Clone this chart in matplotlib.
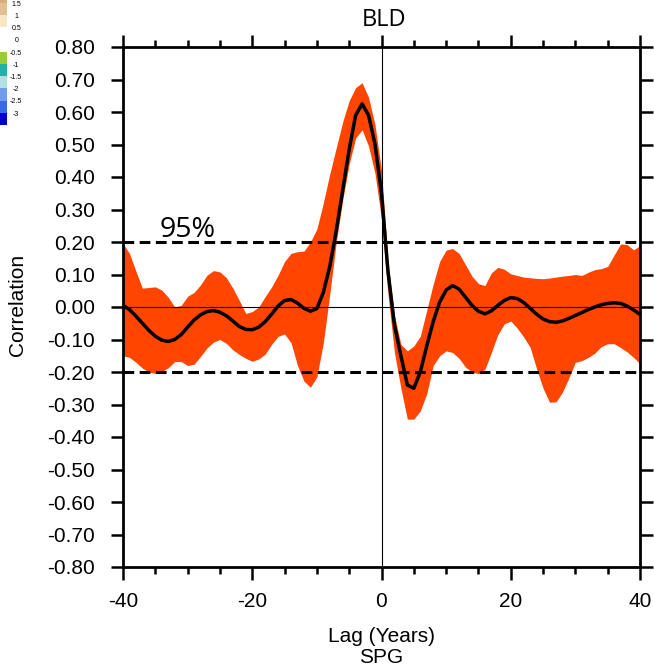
import matplotlib
matplotlib.use("Agg")
import matplotlib.pyplot as plt
import matplotlib.transforms as mtransforms
import numpy as np

plt.rcParams['font.family'] = 'Liberation Sans'
plt.rcParams['axes.unicode_minus'] = False

# lag-correlation data
lags = list(range(-40, 41))
corr = [0.005, -0.008, -0.028, -0.050, -0.072, -0.090, -0.102, -0.106, -0.100, -0.085,
        -0.062, -0.040, -0.024, -0.014, -0.011, -0.016, -0.027, -0.043, -0.060, -0.069,
        -0.070, -0.062, -0.045, -0.022, 0.003, 0.020, 0.023, 0.012, -0.004, -0.013,
        -0.005, 0.045, 0.125, 0.235, 0.360, 0.485, 0.590, 0.625, 0.590, 0.500,
        0.350, 0.110, -0.055, -0.150, -0.240, -0.250, -0.200, -0.120, -0.045, 0.015,
        0.052, 0.066, 0.055, 0.030, 0.005, -0.013, -0.021, -0.012, 0.005, 0.020,
        0.029, 0.026, 0.014, -0.004, -0.022, -0.037, -0.045, -0.047, -0.043, -0.035,
        -0.026, -0.017, -0.008, 0.000, 0.007, 0.011, 0.013, 0.011, 0.003, -0.009,
        -0.023]
upper = [0.195, 0.165, 0.110, 0.058, 0.060, 0.062, 0.052, 0.030, 0.000, 0.005,
         0.033, 0.045, 0.068, 0.098, 0.112, 0.108, 0.090, 0.058, 0.020, -0.020,
         -0.014, 0.000, 0.032, 0.062, 0.098, 0.140, 0.165, 0.170, 0.172, 0.200,
         0.240, 0.320, 0.410, 0.490, 0.570, 0.635, 0.675, 0.690, 0.645, 0.560,
         0.420, 0.140, -0.025, -0.115, -0.135, -0.120, -0.090, -0.010, 0.070, 0.140,
         0.175, 0.180, 0.165, 0.130, 0.095, 0.072, 0.066, 0.105, 0.122, 0.116,
         0.102, 0.097, 0.092, 0.090, 0.088, 0.087, 0.089, 0.092, 0.095, 0.097,
         0.100, 0.097, 0.107, 0.115, 0.118, 0.125, 0.160, 0.194, 0.192, 0.176,
         0.189]
lower = [-0.150, -0.155, -0.170, -0.188, -0.200, -0.204, -0.198, -0.187, -0.168, -0.168,
         -0.180, -0.176, -0.152, -0.126, -0.108, -0.100, -0.112, -0.132, -0.146, -0.158,
         -0.167, -0.160, -0.145, -0.115, -0.090, -0.083, -0.110, -0.180, -0.228, -0.247,
         -0.215, -0.110, 0.040, 0.200, 0.330, 0.440, 0.520, 0.545, 0.495, 0.410,
         0.270, 0.040, -0.140, -0.250, -0.345, -0.345, -0.320, -0.267, -0.180, -0.150,
         -0.135, -0.140, -0.158, -0.185, -0.200, -0.205, -0.192, -0.140, -0.085, -0.052,
         -0.043, -0.065, -0.092, -0.124, -0.190, -0.250, -0.293, -0.292, -0.262, -0.218,
         -0.170, -0.165, -0.155, -0.142, -0.122, -0.113, -0.113, -0.125, -0.138, -0.155,
         -0.175]
sig95 = 0.2

# leftover colour bar strip in the top-left corner
cb_levels = [2.0, 1.5, 1.0, 0.5, 0.0, -0.5, -1.0, -1.5, -2.0, -2.5, -3.0]
cb_colors = ['#d9ad7c', '#e2c094', '#f6e7c6', '#ffffff', '#ffffff', '#9acd32',
             '#20b2aa', '#aee0e4', '#6f9cef', '#3a68e8', '#0000c8']
cb_labels = ['1.5', '1', '0.5', '0', '-0.5', '-1', '-1.5', '-2', '-2.5', '-3']

W, H = 654, 667
fig = plt.figure(figsize=(W / 100, H / 100), dpi=100)

ax = fig.add_axes([123 / W, 1 - 567 / H, 517 / W, 520 / H])
ax.fill_between(lags, lower, upper, color='#ff4500', lw=0, zorder=1)
ax.axhline(0, color='k', lw=0.8, zorder=2)
ax.axvline(0, color='k', lw=0.8, zorder=2)
for s in (sig95, -sig95):
    ax.axhline(s, color='k', lw=2.2, ls=(0, (3.5, 1.8)), zorder=3)
ax.plot(lags, corr, color='k', lw=2.5, zorder=4)

ax.set_xlim(-40, 40)
ax.set_ylim(-0.8, 0.8)
ax.set_xticks([-40, -20, 0, 20, 40])
ax.set_xticklabels(['-40', '-20', '0', '20', '40'])
ax.set_xticks(np.arange(-40, 41, 5), minor=True)
yt = np.round(np.arange(-0.8, 0.81, 0.1), 2)
ax.set_yticks(yt)
ax.set_yticklabels(['%.2f' % (v + 0.0) for v in yt])
ax.tick_params(which='both', direction='out', top=True, right=True, width=1.8)
ax.tick_params(which='major', length=9, labelsize=15)
ax.tick_params(axis='x', which='major', pad=9)
ax.tick_params(axis='y', which='major', pad=11)
ax.tick_params(which='minor', length=4.8)
for sp in ax.spines.values():
    sp.set_linewidth(2.0)

ax.text(-34.3, 0.215, '95%', family='Open Sans', fontsize=20.5, va='baseline', ha='left')

fig.text(384 / W, 1 - 26 / H, 'BLD', family='Open Sans', fontsize=17, ha='center', va='baseline')
fig.text(17.5 / W, 1 - 305 / H, 'Correlation', fontsize=15, rotation=90, ha='center', va='center')
fig.text(381.5 / W, 1 - 641.7 / H, 'Lag (Years)', fontsize=15, ha='center', va='baseline')
fig.text(381.5 / W, 1 - 663 / H, 'SPG', fontsize=15, ha='center', va='baseline')

# colour bar fragment
cax = fig.add_axes([0, 1 - 125 / H, 6.5 / W, 125 / H])
for i in range(len(cb_colors)):
    top = cb_levels[i]
    cax.bar(0.5, -0.5, bottom=top, width=1, color=cb_colors[i], lw=0)
cax.set_xlim(0, 1)
cax.set_ylim(-3.5, 1.5 + 3 / 24.4)
cax.axis('off')
trans = mtransforms.blended_transform_factory(cax.transAxes, cax.transData)
for lab, lev in zip(cb_labels, cb_levels[1:]):
    cax.text(2.5, lev - 0.05, lab, transform=trans, fontsize=5, ha='center', va='center', clip_on=False)

fig.savefig('out.png', dpi=100)
